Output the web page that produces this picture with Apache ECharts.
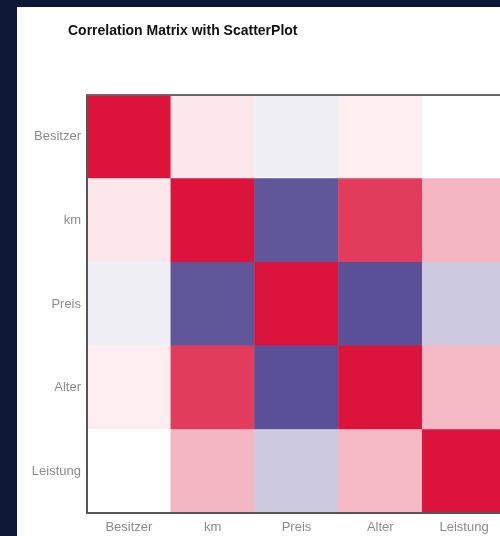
<!DOCTYPE html>
<html><head><meta charset="utf-8">
<script src="https://cdn.jsdelivr.net/npm/echarts@6/dist/echarts.min.js"></script>
<style>
html,body{margin:0;padding:0;width:500px;height:536px;overflow:hidden;background:#0c1836;}
#panel{position:absolute;left:17px;top:7px;width:620px;height:560px;background:#fff;}
#chart{width:620px;height:560px;}
</style></head><body>
<div id="panel"><div id="chart"></div></div>
<script>
const categories = ['Besitzer','km','Preis','Alter','Leistung'];
const rowBesitzer = [1.00, 0.10, -0.08, 0.07, 0.00];
const rowKm       = [0.10, 1.00, -0.87, 0.83, 0.31];
const rowPreis    = [-0.08, -0.87, 1.00, -0.90, -0.28];
const rowAlter    = [0.07, 0.83, -0.90, 1.00, 0.30];
const rowLeistung = [0.00, 0.31, -0.28, 0.30, 1.00];
const rows = [rowBesitzer, rowKm, rowPreis, rowAlter, rowLeistung];

const data = [];
rows.forEach((r, yi) => r.forEach((v, xi) => data.push([xi, yi, v])));

const chart = echarts.init(document.getElementById('chart'));
const labelStyle = {color:'#8c8c8c', fontSize:13, fontFamily:'Liberation Sans, Arial, sans-serif'};
chart.setOption({
  animation:false,
  title:{text:'Correlation Matrix with ScatterPlot', left:46, top:12,
    textStyle:{fontSize:14, fontWeight:'bold', color:'#111', fontFamily:'Liberation Sans, Arial, sans-serif'}},
  grid:{left:70, top:88, width:419, height:418},
  xAxis:[
    {type:'category', data:categories, position:'bottom', z:5,
     axisLine:{show:true, lineStyle:{color:'#555', width:2}}, axisTick:{show:false},
     axisLabel:Object.assign({margin:8}, labelStyle), splitLine:{show:false}},
    {type:'category', data:categories, position:'top', z:5,
     axisLine:{show:true, lineStyle:{color:'#666', width:2}}, axisTick:{show:false},
     axisLabel:{show:false}, splitLine:{show:false}}
  ],
  yAxis:[
    {type:'category', data:categories, inverse:true, z:5,
     axisLine:{show:true, lineStyle:{color:'#555', width:2}}, axisTick:{show:false},
     axisLabel:Object.assign({margin:6}, labelStyle), splitLine:{show:false}}
  ],
  visualMap:{show:false, min:-1, max:1, dimension:2,
    inRange:{color:['#483d8b','#ffffff','#dc143c']}},
  series:[{type:'heatmap', data:data, xAxisIndex:0, yAxisIndex:0,
    itemStyle:{borderWidth:0}, emphasis:{disabled:true}}]
});
</script>
</body></html>
